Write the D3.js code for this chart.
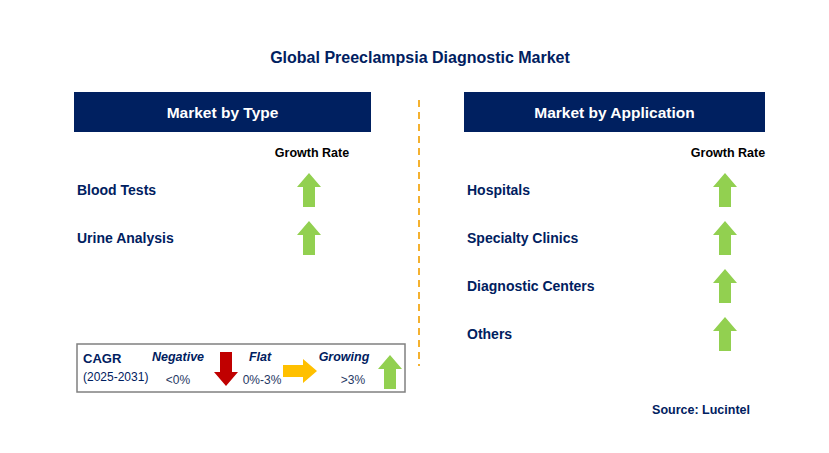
<!DOCTYPE html><html><head><meta charset="utf-8"><script src="https://cdn.jsdelivr.net/npm/d3@7"></script>
<style>body{margin:0;background:#fff}</style></head><body>
<script>
const title = "Global Preeclampsia Diagnostic Market";
const panelTitles = ["Market by Type", "Market by Application"];
const typeCategories = ["Blood Tests", "Urine Analysis"];
const typeGrowth = ["up", "up"];
const appCategories = ["Hospitals", "Specialty Clinics", "Diagnostic Centers", "Others"];
const appGrowth = ["up", "up", "up", "up"];
const legendLabels = ["Negative", "Flat", "Growing"];
const legendRanges = ["<0%", "0%-3%", ">3%"];

const W = 829, H = 453, navy = "#002060", green = "#92d050";
const svg = d3.select("body").append("svg").attr("width", W).attr("height", H);
const font = "Arial, 'Liberation Sans', sans-serif";

svg.append("text").attr("x", 420).attr("y", 63).attr("text-anchor", "middle")
  .attr("font-family", font).attr("font-weight", "bold").attr("font-size", 16).attr("fill", navy).text(title);

const rowY = d3.scalePoint().domain(d3.range(4)).range([190, 334]);

function arrow(g, cx, cy, dir, color) {
  const p = [[0,-17],[12,-3],[6,-3],[6,17],[-6,17],[-6,-3],[-12,-3]];
  const rot = dir === "down" ? 180 : dir === "right" ? 90 : 0;
  g.append("path").attr("d", d3.line()(p) + "Z").attr("fill", color)
    .attr("transform", `translate(${cx},${cy}) rotate(${rot})`);
}

function panel(x0, x1, name, cats, growth, arrowX) {
  svg.append("rect").attr("x", x0).attr("y", 92).attr("width", x1 - x0).attr("height", 40).attr("fill", navy);
  svg.append("text").attr("x", (x0 + x1) / 2).attr("y", 118).attr("text-anchor", "middle")
    .attr("font-family", font).attr("font-weight", "bold").attr("font-size", 15.5).attr("fill", "#fff").text(name);
  svg.append("text").attr("x", arrowX + 3).attr("y", 157).attr("text-anchor", "middle")
    .attr("font-family", font).attr("font-weight", "bold").attr("font-size", 12.5).attr("fill", "#000").text("Growth Rate");
  cats.forEach((c, i) => {
    svg.append("text").attr("x", x0 + 3).attr("y", rowY(i) + 5).attr("font-family", font)
      .attr("font-weight", "bold").attr("font-size", 14).attr("fill", navy).text(c);
    arrow(svg, arrowX, rowY(i), growth[i], green);
  });
}
panel(74, 371, panelTitles[0], typeCategories, typeGrowth, 309);
panel(464, 765, panelTitles[1], appCategories, appGrowth, 725);

svg.append("line").attr("x1", 419).attr("x2", 419).attr("y1", 100).attr("y2", 366)
  .attr("stroke", "#f4b130").attr("stroke-width", 2).attr("stroke-dasharray", "7,5");

svg.append("rect").attr("x", 77).attr("y", 344).attr("width", 328).attr("height", 48)
  .attr("fill", "#fff").attr("stroke", "#808080").attr("stroke-width", 1.5);
svg.append("text").attr("x", 83).attr("y", 363).attr("font-family", font).attr("font-weight", "bold")
  .attr("font-size", 13).attr("fill", navy).text("CAGR");
svg.append("text").attr("x", 83).attr("y", 381).attr("font-family", font)
  .attr("font-size", 12).attr("fill", navy).text("(2025-2031)");
const lx = [178, 260, 344], rx = [178, 262, 353];
legendLabels.forEach((l, i) => {
  svg.append("text").attr("x", lx[i]).attr("y", 361).attr("text-anchor", "middle").attr("font-family", font)
    .attr("font-weight", "bold").attr("font-style", "italic").attr("font-size", 12.5).attr("fill", navy).text(l);
  svg.append("text").attr("x", rx[i]).attr("y", 384).attr("text-anchor", "middle").attr("font-family", font)
    .attr("font-size", 12).attr("fill", "#1f3864").text(legendRanges[i]);
});
arrow(svg, 226, 369, "down", "#c00000");
arrow(svg, 300, 371, "right", "#ffc000");
arrow(svg, 390, 372, "up", green);

svg.append("text").attr("x", 750).attr("y", 414).attr("text-anchor", "end").attr("font-family", font)
  .attr("font-weight", "bold").attr("font-size", 12.5).attr("fill", navy).text("Source: Lucintel");
</script></body></html>
